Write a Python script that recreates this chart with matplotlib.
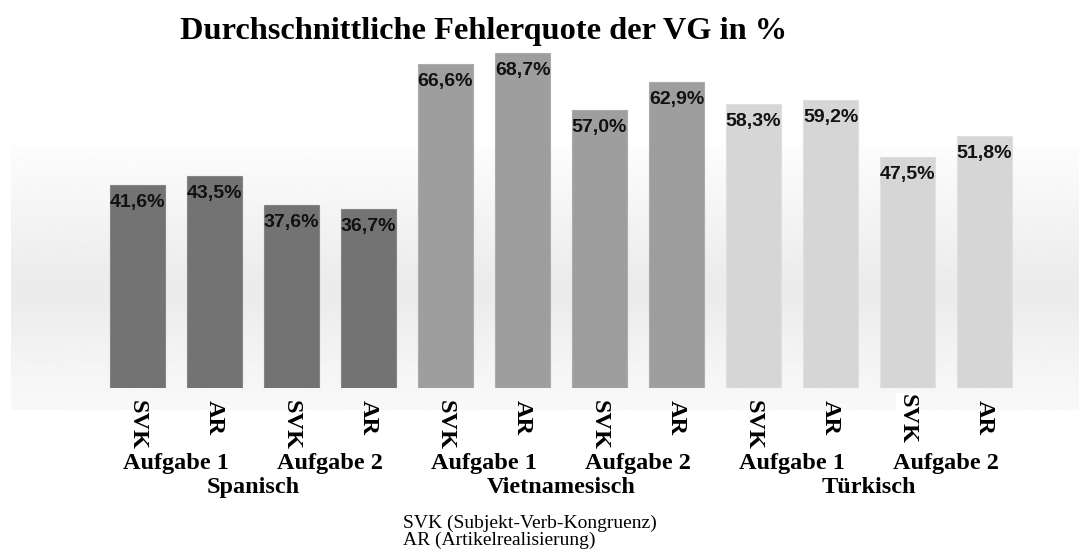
import numpy as np
import matplotlib
matplotlib.use('Agg')
import matplotlib.pyplot as plt

# ---------------- data ----------------
languages = ['Spanisch', 'Vietnamesisch', 'Türkisch']
tasks = ['Aufgabe 1', 'Aufgabe 2']
measures = ['SVK', 'AR']
values = [41.6, 43.5, 37.6, 36.7,   # Spanisch
          66.6, 68.7, 57.0, 62.9,   # Vietnamesisch
          58.3, 59.2, 47.5, 51.8]   # Türkisch
lang_colors = ['#737373', '#9e9e9e', '#d6d6d6']
edge_colors = ['#858585', '#acacac', '#e0e0e0']
title = 'Durchschnittliche Fehlerquote der VG in %'
footnote = ['SVK (Subjekt-Verb-Kongruenz)', 'AR (Artikelrealisierung)']

serif = ['Liberation Serif', 'DejaVu Serif']
sans = ['Liberation Sans', 'DejaVu Sans']

W, H = 1079, 560
fig = plt.figure(figsize=(W / 100, H / 100), dpi=100)

# ---------------- background gradient band ----------------
bg_top, bg_bot = 145, 410
ax_bg = fig.add_axes([11 / W, (H - bg_bot) / H, (W - 11) / W, (bg_bot - bg_top) / H])
stops_y = [0.0, 0.2, 0.5, 0.6, 0.8, 1.0]
stops_v = [0.99, 0.965, 0.925, 0.925, 0.955, 0.975]
yy = np.linspace(0, 1, 200)
grad = np.interp(yy, stops_y, stops_v)[:, None]
ax_bg.imshow(grad, cmap='gray', vmin=0, vmax=1, aspect='auto', interpolation='bilinear')
ax_bg.set_axis_off()

# ---------------- main axes ----------------
step = 77.0            # px between bars
x0_px = 137.5 - 0.5 * step
base_px = 388.0
px_per_pct = 4.87
ymax = 75
ax = fig.add_axes([x0_px / W, (H - base_px) / H, 12 * step / W, ymax * px_per_pct / H])
ax.patch.set_alpha(0)

x = np.arange(len(values))
colors = [lang_colors[i // 4] for i in x]
ecolors = [edge_colors[i // 4] for i in x]
ax.bar(x, values, width=55 / step, color=colors, edgecolor=ecolors, linewidth=0.8)
ax.set_xlim(-0.5, len(values) - 0.5)
ax.set_ylim(0, ymax)

for xi, v in zip(x, values):
    ax.annotate(f'{v:.1f}%'.replace('.', ','), (xi, v), xytext=(0, -6.5),
                textcoords='offset points', ha='center', va='top',
                fontsize=14, fontweight='bold', family=sans, color='#111111')

for s in ax.spines.values():
    s.set_visible(False)
ax.set_yticks([])
ax.set_xticks(x)
ax.set_xticklabels(measures * 6, rotation=-90, fontsize=17.5, fontweight='bold',
                   family=serif)
ax.tick_params(axis='x', length=0, pad=8.6)
# the second-to-last SVK label sits a bit higher on a white patch
lbl = ax.get_xticklabels()[10]
lbl.set_bbox(dict(facecolor='white', edgecolor='none', pad=1))
lbl.set_y(0.015)

# task and language labels
trans = ax.get_xaxis_transform()
axh = ymax * px_per_pct
for k in range(6):
    ax.text(2 * k + 0.5, (base_px - 469) / axh, tasks[k % 2], transform=trans,
            ha='center', va='baseline', fontsize=17.5, fontweight='bold', family=serif)
for k, lang in enumerate(languages):
    ax.text(4 * k + 1.5, (base_px - 493) / axh, lang, transform=trans,
            ha='center', va='baseline', fontsize=17.5, fontweight='bold', family=serif)

# title and footnote
fig.text(483.5 / W, (H - 39) / H, title, ha='center', va='baseline',
         fontsize=23.3, fontweight='bold', family=serif)
for k, line in enumerate(footnote):
    fig.text(403 / W, (H - 528 - 17 * k) / H, line, ha='left', va='baseline',
             fontsize=14, family=serif)

fig.savefig('out.png', dpi=100, facecolor='white')
